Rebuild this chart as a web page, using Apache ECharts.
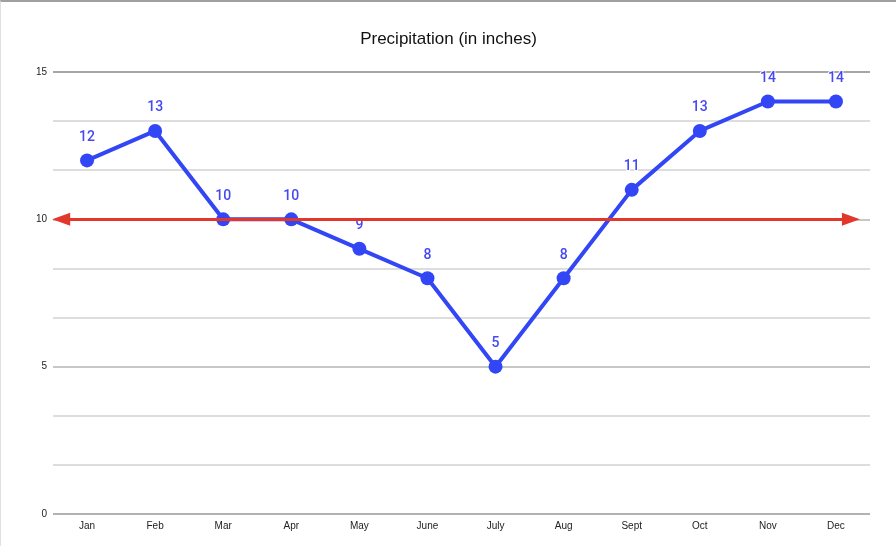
<!DOCTYPE html>
<html>
<head>
<meta charset="utf-8">
<script src="https://cdn.jsdelivr.net/npm/echarts@6/dist/echarts.min.js"></script>
<style>
  html, body { margin: 0; padding: 0; background: #fff; }
  #chart { width: 896px; height: 546px; box-sizing: border-box; border-top: 2px solid #a0a0a0; border-left: 1px solid #e0e0e0; }
</style>
</head>
<body>
<div id="chart"></div>
<script>
const months = ['Jan', 'Feb', 'Mar', 'Apr', 'May', 'June', 'July', 'Aug', 'Sept', 'Oct', 'Nov', 'Dec'];
const precipitation = [12, 13, 10, 10, 9, 8, 5, 8, 11, 13, 14, 14];
const referenceLevel = 10;
// start / end of the red reference arrow, in month-index units
const referenceSpan = [-0.38, 11.22];

const myChart = echarts.init(document.getElementById('chart'));

const labelFont = 'Liberation Sans, Arial, sans-serif';

const option = {
  animation: false,
  title: {
    text: 'Precipitation (in inches)',
    left: 'center',
    top: 24,
    textStyle: {
      fontFamily: labelFont,
      fontSize: 17,
      fontWeight: 'normal',
      color: '#111'
    }
  },
  grid: {
    left: 52,
    right: 26,
    top: 70,
    bottom: 32
  },
  xAxis: [
    {
      type: 'category',
      data: months,
      axisLine: { show: false },
      axisTick: { show: false },
      axisLabel: {
        fontFamily: labelFont,
        fontSize: 10,
        color: '#222',
        margin: 7
      }
    },
    {
      // hidden helper axis so the arrow can start/end between months
      type: 'value',
      min: -0.5,
      max: 11.5,
      show: false
    }
  ],
  yAxis: {
    type: 'value',
    min: 0,
    max: 15,
    interval: 5,
    axisLine: { show: false },
    axisTick: { show: false },
    axisLabel: {
      fontFamily: labelFont,
      fontSize: 10,
      color: '#222',
      margin: 6
    },
    splitLine: {
      lineStyle: { color: ['#999', '#b4b4b4', '#b4b4b4', '#888'], width: 1.5 }
    },
    minorTick: { show: false, splitNumber: 3 },
    minorSplitLine: {
      show: true,
      lineStyle: { color: '#d2d2d2', width: 1.5 }
    }
  },
  series: [
    {
      name: 'Precipitation',
      type: 'line',
      data: precipitation,
      symbol: 'circle',
      symbolSize: 14,
      itemStyle: { color: '#3246f5' },
      lineStyle: { color: '#3246f5', width: 4 },
      label: {
        show: true,
        position: 'top',
        distance: 9,
        fontFamily: 'Roboto, Liberation Sans, sans-serif',
        fontWeight: 500,
        fontSize: 14,
        color: '#4648f2',
        textBorderColor: '#fff',
        textBorderWidth: 2
      }
    },
    {
      name: 'Reference',
      type: 'line',
      xAxisIndex: 1,
      data: [],
      silent: true,
      markLine: {
        silent: true,
        symbol: ['triangle', 'triangle'],
        symbolSize: [13, 18],
        label: { show: false },
        lineStyle: { color: '#e2382c', width: 3, type: 'solid' },
        data: [[
          { coord: [referenceSpan[0], referenceLevel] },
          { coord: [referenceSpan[1], referenceLevel] }
        ]]
      }
    }
  ]
};

myChart.setOption(option);
</script>
</body>
</html>
